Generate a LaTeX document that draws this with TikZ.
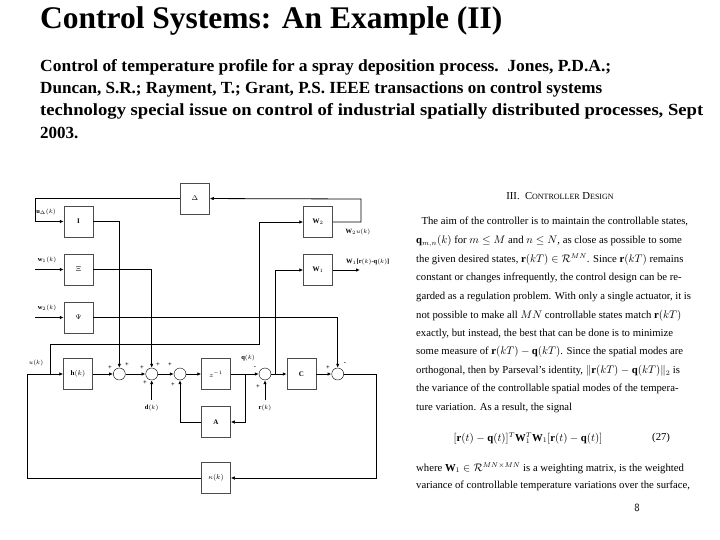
\documentclass[tikz,border=0pt]{standalone}
\usepackage{fontspec}
\usepackage{amsmath,amssymb}
\usepackage{graphicx}
\setmainfont{Liberation Serif}
\usetikzlibrary{arrows.meta}
\begin{document}
\begin{tikzpicture}[x=1pt,y=-1pt,
  blk/.style={draw=black!70,line width=0.5pt,minimum width=29pt,minimum height=31pt,inner sep=0pt,font=\fontsize{7}{8}\selectfont\bfseries},
  sm/.style={draw,circle,minimum size=12pt,inner sep=0pt},
  ln/.style={line width=0.8pt},
  ar/.style={line width=0.8pt,-{Latex[length=4pt,width=3.5pt]}},
  lb/.style={font=\fontsize{6.5}{7}\selectfont\bfseries,inner sep=1pt},
  sub/.style={anchor=west,inner sep=0pt,font=\fontsize{17}{18}\selectfont\bfseries},
  body/.style={anchor=west,inner sep=0pt,font=\fontsize{10.7}{12}\selectfont}]
\useasboundingbox (0,0) rectangle (720,540);
% titles
\node[anchor=west,inner sep=0pt,font=\fontsize{31.5}{34}\selectfont\bfseries] (title) at (40,21) {Control Systems: An Example (II)};
\node[sub] (s1) at (40,67) {\resizebox{571pt}{\height}{Control of temperature profile for a spray deposition process.\ \ Jones, P.D.A.;}};
\node[sub] (s2) at (40,89) {\resizebox{562pt}{\height}{Duncan, S.R.; Rayment, T.; Grant, P.S. IEEE transactions on control systems}};
\node[sub] (s3) at (40,111) {\resizebox{663pt}{\height}{technology special issue on control of industrial spatially distributed processes, Sept}};
\node[sub] (s4) at (40,133) {2003.};
% blocks
\node[blk] (D) at (195,198.5) {$\Delta$};
\node[blk] (I) at (78.5,221.5) {I};
\node[blk] (X) at (78.5,269.5) {$\Xi$};
\node[blk] (P) at (78.5,317.5) {$\Psi$};
\node[blk] (h) at (78,374) {h$(k)$};
\node[blk] (z) at (216,374) {$z^{-1}$};
\node[blk] (A) at (216,422) {A};
\node[blk] (C) at (301.5,374) {C};
\node[blk] (W2) at (318,222) {W$_2$};
\node[blk] (W1) at (318,270) {W$_1$};
\node[blk] (K) at (216,478) {$\kappa(k)$};
\node[sm] (S1) at (119.3,374) {};
\node[sm] (S2) at (151.7,374) {};
\node[sm] (S3) at (180,374) {};
\node[sm] (S4) at (265,374) {};
\node[sm] (S5) at (337.7,374) {};
% coordinates
\coordinate (uL) at (27,374);
\coordinate (br) at (50,374);
\coordinate (qb) at (245,374);
\coordinate (eb) at (275,374);
\coordinate (w1in) at (35,269.5);
\coordinate (w2in) at (35,317.5);
\coordinate (dk) at (151.7,400);
\coordinate (rk) at (265,400);
\coordinate (w1out) at (360,270);
% connections
\draw[ar] (uL) -- (h);
\draw[ar] (h) -- (S1);
\draw[ar] (S1) -- (S2);
\draw[ar] (S2) -- (S3);
\draw[ar] (S3) -- (z);
\draw[ar] (z) -- (S4);
\draw[ar] (S4) -- (C);
\draw[ar] (C) -- (S5);
\draw[ar] (S5.east) -- (376.7,374) |- (K);
\draw[ln] (K) -| (uL);
\draw[ar] (br) |- (100,344.3) -| (259.3,240) |- (W2);
\draw[ar] (I) -| (S1);
\draw[ar] (X) -| (S2);
\draw[ar] (P) -| (S5);
\draw[ar] (W2) -| (361,199) -- (D);
\draw[ar] (D) -| (35,221.5) -- (I);
\draw[ar] (w1in) -- (X);
\draw[ar] (w2in) -- (P);
\draw[ar] (W1) -- (w1out);
\draw[ar] (dk) -- (S2);
\draw[ar] (rk) -- (S4);
\draw[ar] (qb) |- (A);
\draw[ar] (A) -| (S3);
\draw[ar] (eb) |- (W1);
% labels
\node[lb] at (36,363) {$u(k)$};
\node[lb] at (46,212) {u$_\Delta(k)$};
\node[lb] at (47,260) {w$_1(k)$};
\node[lb] at (47,308) {w$_2(k)$};
\node[lb] at (358,232) {W$_2u(k)$};
\node[lb,anchor=west] at (345,262) {W$_1$[r$(k)$-q$(k)$]};
\node[lb] at (248,358) {q$(k)$};
\node[lb] at (151.7,408) {d$(k)$};
\node[lb] at (265,408) {r$(k)$};
\node[lb] at (110,368) {+};
\node[lb] at (127,365) {+};
\node[lb] at (142,368) {+};
\node[lb] at (158,365) {+};
\node[lb] at (145,383) {+};
\node[lb] at (170,365) {+};
\node[lb] at (173,385) {+};
\node[lb] at (255,368) {-};
\node[lb] at (258,387) {+};
\node[lb] at (328,368) {+};
\node[lb] at (345,364) {-};
% right text
\node[inner sep=0pt,font=\fontsize{10.7}{12}\selectfont] (hd) at (560,196) {III.\ \ C{\footnotesize ONTROLLER} D{\footnotesize ESIGN}};
\node[body] at (416,222) {\ \ The aim of the controller is to maintain the controllable states,};
\node[body] at (416,241) {$\mathbf{q}_{m,n}(k)$ for $m \le M$ and $n \le N$, as close as possible to some};
\node[body] at (416,259) {the given desired states, $\mathbf{r}(kT) \in \mathcal{R}^{MN}$. Since $\mathbf{r}(kT)$ remains};
\node[body] at (416,278) {constant or changes infrequently, the control design can be re-};
\node[body] at (416,297) {garded as a regulation problem. With only a single actuator, it is};
\node[body] at (416,316) {not possible to make all $MN$ controllable states match $\mathbf{r}(kT)$};
\node[body] at (416,334) {exactly, but instead, the best that can be done is to minimize};
\node[body] at (416,352) {some measure of $\mathbf{r}(kT) - \mathbf{q}(kT)$. Since the spatial modes are};
\node[body] at (416,371) {orthogonal, then by Parseval's identity, $\|\mathbf{r}(kT) - \mathbf{q}(kT)\|_2$ is};
\node[body] at (416,389) {the variance of the controllable spatial modes of the tempera-};
\node[body] at (416,408) {ture variation. As a result, the signal};
\node[inner sep=1pt,font=\fontsize{10.7}{12}\selectfont] (eq) at (528,438) {$[\mathbf{r}(t) - \mathbf{q}(t)]^T\mathbf{W}_1^T\mathbf{W}_1[\mathbf{r}(t) - \mathbf{q}(t)]$};
\node[inner sep=0pt,font=\fontsize{10.7}{12}\selectfont,anchor=west] (eqn) at (652,438) {(27)};
\node[body] at (416,468) {where $\mathbf{W}_1 \in \mathcal{R}^{MN\times MN}$ is a weighting matrix, is the weighted};
\node[body] at (416,486) {variance of controllable temperature variations over the surface,};
\node[inner sep=0pt,font=\fontsize{11}{12}\selectfont\sffamily] (pg) at (637,508) {8};
\end{tikzpicture}
\end{document}
